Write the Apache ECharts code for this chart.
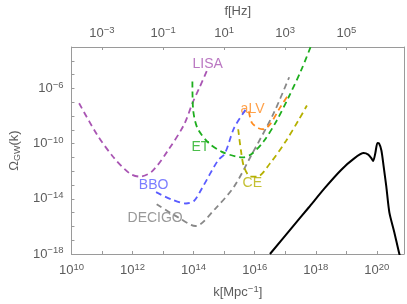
<!DOCTYPE html>
<html><head><meta charset="utf-8">
<script src="https://cdn.jsdelivr.net/npm/echarts@6/dist/echarts.min.js"></script>
<style>html,body{margin:0;padding:0;background:#fff}#c{width:407px;height:304px}</style>
</head><body><div id="c"></div>
<script>
// All values are log10 exponents: x = log10(k [Mpc^-1]), y = log10(Omega_GW)
const kLabelExps = [10, 12, 14, 16, 18, 20];
const fLabelExps = [-3, -1, 1, 3, 5];
const yLabelExps = [-18, -14, -10, -6];

const lisaK = [10.25, 10.83, 11.37, 11.9, 12.23, 12.63, 13.16, 13.69, 13.96, 14.2, 14.43];
const lisaO = [-7.08, -9.32, -10.97, -12.15, -12.39, -12.03, -10.5, -8.61, -7.08, -5.9, -4.75];

const etK = [13.96, 13.98, 14.12, 14.49, 14.91, 15.4, 15.62, 15.9, 16.29, 16.71, 17.13, 17.52, 17.83];
const etO = [-5.5, -7.43, -8.85, -9.95, -10.58, -10.95, -11.0, -10.75, -9.85, -8.38, -6.55, -4.7, -3.0];

const bboK = [12.77, 13.27, 13.75, 14.01, 14.28, 14.8, 15.02, 15.33, 15.7];
const bboO = [-13.52, -14.04, -14.34, -14.16, -13.21, -11.21, -10.73, -8.85, -7.55];

const decigoK = [12.79, 13.48, 14.06, 14.7, 15.33, 15.86, 16.6, 17.13];
const decigoO = [-14.39, -15.33, -15.97, -14.74, -13.1, -10.97, -7.9, -5.19];

const alvK = [15.81, 15.91, 16.13, 16.29, 16.5, 16.82, 17.13];
const alvO = [-7.67, -8.5, -8.89, -8.96, -8.61, -7.43, -6.37];

const ceK = [15.46, 15.55, 15.65, 15.86, 16.08, 16.5, 17.03, 17.45, 17.71];
const ceO = [-8.96, -10.5, -11.68, -12.39, -12.39, -11.44, -9.79, -8.25, -7.24];

const sigK = [16.5, 17.24, 17.77, 18.3, 18.83, 19.25, 19.57, 19.72, 19.82, 19.88, 19.95, 20.02, 20.07, 20.15, 20.22, 20.31, 20.41, 20.57, 20.73, 20.78];
const sigO = [-18.0, -16.04, -14.63, -13.21, -11.91, -11.09, -10.69, -10.8, -11.05, -11.26, -10.7, -9.95, -9.97, -10.5, -11.6, -13.1, -14.98, -16.4, -17.93, -18.3];

// label anchors (data coordinates)
const labelNames = ['LISA', 'ET', 'BBO', 'DECIGO', 'aLV', 'CE'];
const labelK = [14.46, 14.22, 12.69, 12.74, 15.93, 15.92];
const labelO = [-4.25, -10.26, -12.98, -15.38, -7.53, -12.9];

const FONT = '"Liberation Sans", Arial, sans-serif';
const AX = '#9a9a9a', TX = '#5c5c5c';
function pow10(e) {
  e = Math.round(e);
  return '{b|10}{s|' + (e < 0 ? '\u2212' + (-e) : e) + '}';
}
const rich = {
  b: {fontSize: 13, fontFamily: FONT, color: TX},
  s: {fontSize: 9.5, fontFamily: FONT, color: TX, padding: [0, 0, 7, 0]}
};
function zip(a, b) { return a.map((v, i) => [v, b[i]]); }

const styles = [
  {name: 'LISA', k: lisaK, o: lisaO, color: '#a955b3'},
  {name: 'ET', k: etK, o: etO, color: '#1eae1e'},
  {name: 'BBO', k: bboK, o: bboO, color: '#5a5cff'},
  {name: 'DECIGO', k: decigoK, o: decigoO, color: '#888888'},
  {name: 'aLV', k: alvK, o: alvO, color: '#ff8a1c'},
  {name: 'CE', k: ceK, o: ceO, color: '#b5b000'}
];

const series = styles.map(s => ({
  type: 'line', name: s.name, data: zip(s.k, s.o), showSymbol: false, symbol: 'none',
  smooth: 0.3, clip: true,
  lineStyle: {color: s.color, width: 1.8, type: [6, 4]},
  silent: true
}));
series.push({
  type: 'line', name: 'signal', data: zip(sigK, sigO), showSymbol: false, symbol: 'none',
  smooth: 0.25, clip: true, lineStyle: {color: '#000', width: 2}, silent: true
});
series.push({
  type: 'scatter', symbolSize: 0, silent: true,
  data: labelNames.map((n, i) => ({value: [labelK[i], labelO[i]], name: n,
    label: {color: styles[i].color === '#888888' ? '#808080' : styles[i].color}})),
  label: {show: true, position: 'inside', formatter: p => p.name, fontSize: 14, fontFamily: FONT}
});

const chart = echarts.init(document.getElementById('c'), null, {renderer: 'canvas'});
chart.setOption({
  animation: false,
  backgroundColor: '#fff',
  grid: {left: 62, right: 2, top: 44, bottom: 48, containLabel: false},
  xAxis: [{
    type: 'value', position: 'bottom', min: 10, max: 20.89, interval: 1,
    name: '{b|k[Mpc}{s|\u22121}{b|]}', nameLocation: 'middle', nameGap: 30,
    nameTextStyle: {rich: rich},
    axisLine: {show: true, onZero: false, lineStyle: {color: AX}},
    axisTick: {show: true, inside: true, length: 3, lineStyle: {color: AX}},
    axisLabel: {margin: 8, formatter: v => (Math.round(v) % 2 === 0 ? pow10(v) : ''), rich: rich},
    splitLine: {show: false}
  }, {
    type: 'value', position: 'top', min: -4, max: 6.89,
    name: 'f[Hz]', nameLocation: 'middle', nameGap: 29,
    nameTextStyle: {fontSize: 13, fontFamily: FONT, color: TX},
    axisLine: {show: true, onZero: false, lineStyle: {color: AX}},
    axisTick: {show: true, inside: true, length: 3, lineStyle: {color: AX}, customValues: fLabelExps},
    axisLabel: {margin: 5, customValues: fLabelExps, formatter: v => pow10(v), rich: rich},
    splitLine: {show: false}
  }],
  yAxis: [{
    type: 'value', position: 'left', min: -18, max: -3, interval: 1,
    name: '{b|\u03a9}{g|GW}{b|(k)}', nameLocation: 'middle', nameGap: 47, nameRotate: 90,
    nameTextStyle: {rich: {
      b: {fontSize: 13, fontFamily: FONT, color: TX},
      g: {fontSize: 9, fontFamily: FONT, color: TX, padding: [6, 0, 0, 0]}
    }},
    axisLine: {show: true, onZero: false, lineStyle: {color: AX}},
    axisTick: {show: true, inside: true, length: 3, lineStyle: {color: AX}},
    axisLabel: {margin: 8, formatter: v => (yLabelExps.indexOf(Math.round(v)) >= 0 ? pow10(v) : ''), rich: rich},
    splitLine: {show: false}
  }, {
    type: 'value', position: 'right', min: -18, max: -3,
    axisLine: {show: true, onZero: false, lineStyle: {color: AX}},
    axisTick: {show: false}, axisLabel: {show: false}, splitLine: {show: false}
  }],
  series: series
});
</script>
</body></html>
